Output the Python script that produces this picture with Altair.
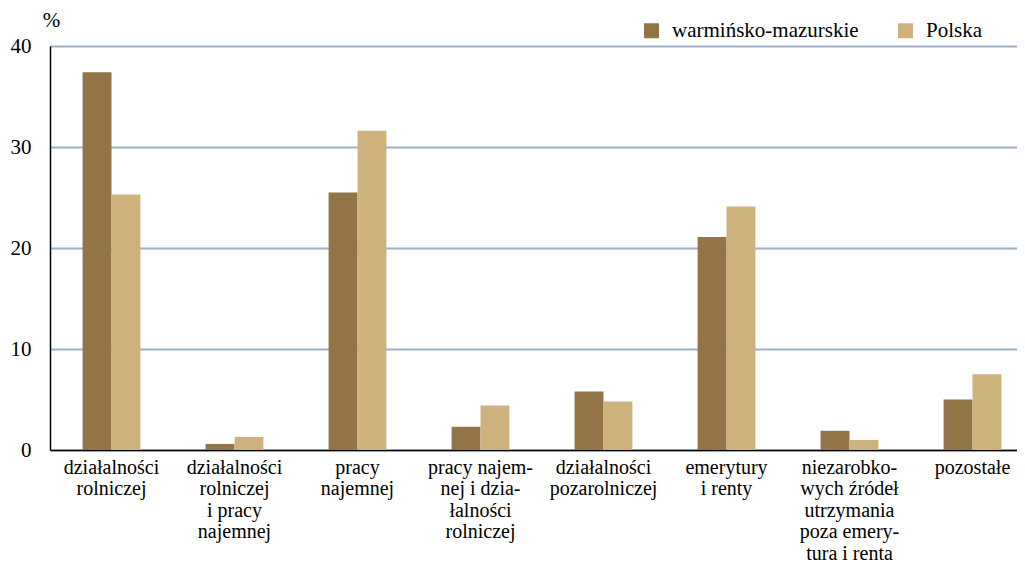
import altair as alt
import pandas as pd

categories = [
    "działalności|rolniczej",
    "działalności|rolniczej|i pracy|najemnej",
    "pracy|najemnej",
    "pracy najem-|nej i dzia-|łalności|rolniczej",
    "działalności|pozarolniczej",
    "emerytury|i renty",
    "niezarobko-|wych źródeł|utrzymania|poza emery-|tura i renta",
    "pozostałe",
]
series = ["warmińsko-mazurskie", "Polska"]
warminsko = [37.4, 0.6, 25.5, 2.3, 5.8, 21.1, 1.9, 5.0]
polska = [25.3, 1.3, 31.6, 4.4, 4.8, 24.1, 1.0, 7.5]
colors = ["#927446", "#CDB27E"]

rows = []
for c, a, b in zip(categories, warminsko, polska):
    rows.append({"kat": c, "seria": series[0], "v": a})
    rows.append({"kat": c, "seria": series[1], "v": b})
df = pd.DataFrame(rows)

FONT = "Liberation Serif"

chart = alt.Chart(df).mark_bar().encode(
    x=alt.X("kat:N", sort=categories, title=None,
            scale=alt.Scale(paddingInner=0.53, paddingOuter=0.265),
            axis=alt.Axis(labelAngle=0, ticks=False, domainColor="black", domainWidth=1.5,
                          labelExpr="split(datum.label, '|')", labelLineHeight=21.5,
                          labelPadding=7, labelFontSize=20, labelFont=FONT,
                          labelColor="black", labelBaseline="top", labelLimit=0)),
    xOffset=alt.XOffset("seria:N", sort=series, scale=alt.Scale(paddingInner=0, paddingOuter=0)),
    y=alt.Y("v:Q", scale=alt.Scale(domain=[0, 40]),
            axis=alt.Axis(values=[0, 10, 20, 30, 40], ticks=False, domainColor="black",
                          domainWidth=1.5, gridColor="#9BB0C8", gridWidth=2,
                          labelFontSize=21, labelFont=FONT, labelColor="black", labelPadding=19,
                          title="%", titleAngle=0, titleX=1, titleY=-26, titleAlign="center",
                          titleBaseline="middle", titleFont=FONT, titleFontSize=21,
                          titleFontWeight="normal", titleColor="black")),
    color=alt.Color("seria:N", sort=series, scale=alt.Scale(domain=series, range=colors),
                    legend=alt.Legend(title=None, orient="none", direction="horizontal",
                                      legendX=591, legendY=-26, symbolType="square",
                                      symbolSize=225, symbolStrokeWidth=0, labelOffset=10,
                                      columnPadding=36, labelFont=FONT, labelFontSize=21,
                                      labelColor="black", padding=0, symbolOpacity=1,
                                      labelLimit=0)),
).properties(
    width=984, height=404,
    autosize=alt.AutoSizeParams(type="none"),
    padding={"left": 42, "top": 38, "right": -17, "bottom": 118},
).configure_view(stroke=None).configure_axis(gridOpacity=1)

chart.save("out.html", embed_options={"renderer": "svg", "actions": False})
